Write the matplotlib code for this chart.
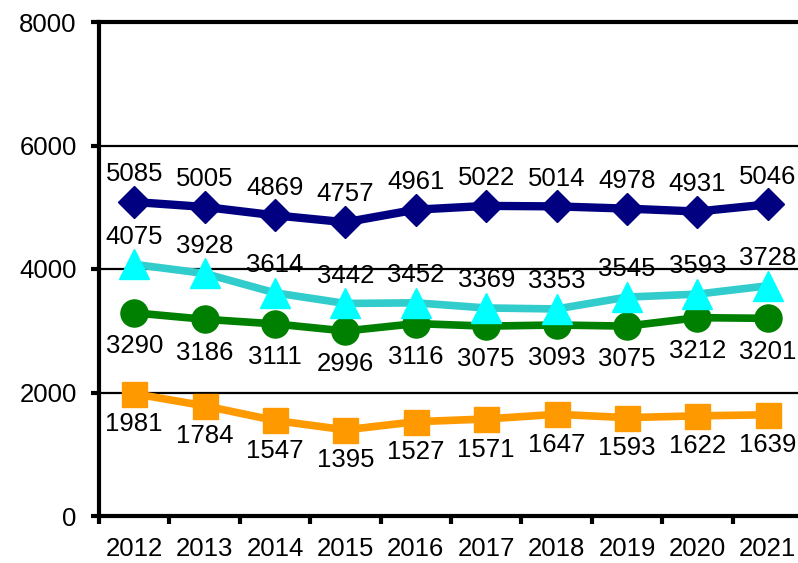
import numpy as np
import matplotlib
matplotlib.use("Agg")
import matplotlib.pyplot as plt

plt.rcParams['font.family'] = ['Liberation Sans', 'DejaVu Sans']

years = ['2012', '2013', '2014', '2015', '2016', '2017', '2018', '2019', '2020', '2021']
navy_vals = [5085, 5005, 4869, 4757, 4961, 5022, 5014, 4978, 4931, 5046]
cyan_vals = [4075, 3928, 3614, 3442, 3452, 3369, 3353, 3545, 3593, 3728]
green_vals = [3290, 3186, 3111, 2996, 3116, 3075, 3093, 3075, 3212, 3201]
orange_vals = [1981, 1784, 1547, 1395, 1527, 1571, 1647, 1593, 1622, 1639]

x = np.arange(len(years))

fig = plt.figure(figsize=(7.98, 5.63), dpi=100)
ax = fig.add_axes([99 / 798, 47 / 563, 704 / 798, 494 / 563])

# (values, line colour, marker, marker colour, marker size, label offset in pt, z)
series = [
    (navy_vals, '#000080', 'D', '#000080', 16.5, 20, 3),
    (orange_vals, '#FF9900', 's', '#FF9900', 18, -22, 3),
    (green_vals, '#008000', 'o', '#008000', 19.5, -24, 4),
    (cyan_vals, '#33CCCC', '^', '#00FFFF', 21, 20, 5),
]

for vals, lc, mk, mc, ms, off, z in series:
    lw = 6 if lc == '#000080' else 5.5
    ax.plot(x, vals, color=lc, linewidth=lw, marker=mk, markersize=ms,
            markerfacecolor=mc, markeredgecolor=mc, zorder=z, clip_on=False)
    for xi, v in zip(x, vals):
        ax.annotate(str(v), (xi, v), xytext=(0, off), textcoords='offset points',
                    ha='center', va='center', fontsize=18.5, zorder=10)

ax.set_xlim(-0.5, len(years) - 0.5)
ax.set_ylim(0, 8000)
ax.set_yticks([0, 2000, 4000, 6000, 8000])
ax.set_yticklabels(['0', '2000', '4000', '6000', '8000'])
ax.set_xticks(x)
ax.set_xticklabels(years)
ax.set_xticks(np.arange(-0.5, len(years), 1.0), minor=True)

ax.tick_params(axis='x', which='major', length=0, pad=15, labelsize=18.5)
ax.tick_params(axis='x', which='minor', length=6, width=3, direction='out')
ax.tick_params(axis='y', length=6, width=3, direction='out', pad=10, labelsize=18.5)

for y in [2000, 4000, 6000]:
    ax.axhline(y, color='black', linewidth=1.6, zorder=1)

for s in ['left', 'bottom', 'top']:
    ax.spines[s].set_linewidth(3)
    ax.spines[s].set_color('black')
ax.spines['right'].set_visible(False)

fig.savefig('out.png', dpi=100)
